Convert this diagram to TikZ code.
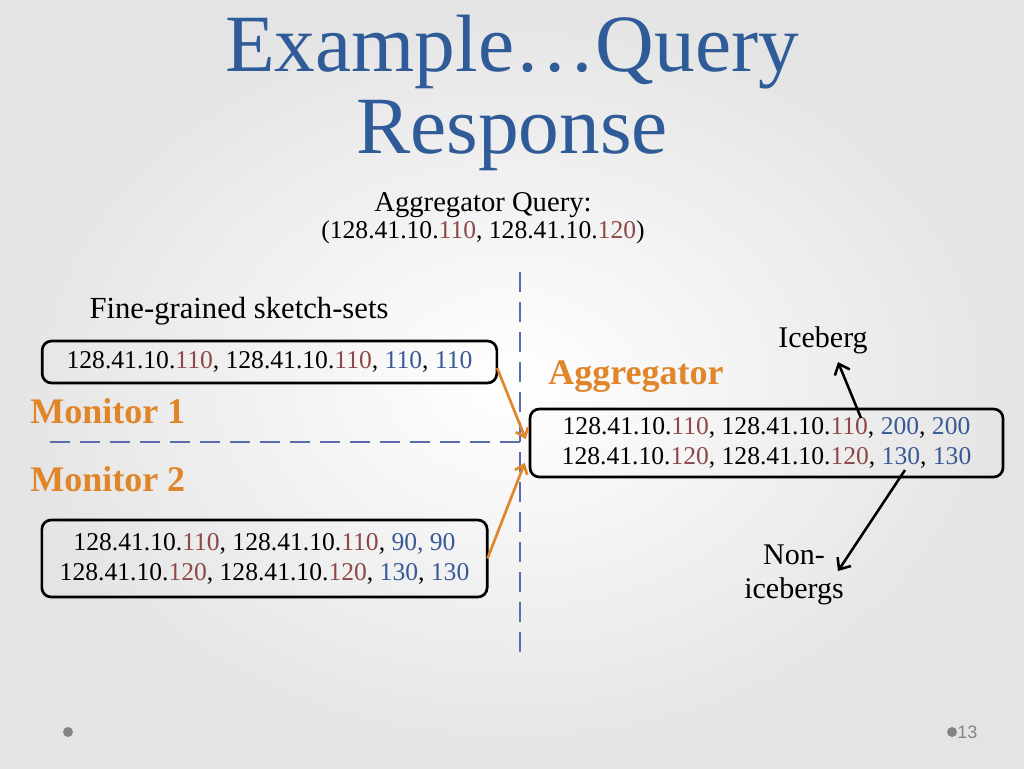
\documentclass[tikz,border=0pt]{standalone}
\usepackage{fontspec}
\setmainfont{Liberation Serif}
\newfontfamily\footfont{Liberation Sans}
\usetikzlibrary{arrows.meta,calc}
\definecolor{titleblue}{HTML}{2F5C98}
\definecolor{numred}{HTML}{8E4848}
\definecolor{numblue}{HTML}{3A5A96}
\definecolor{monorange}{HTML}{E0852A}
\definecolor{dashblue}{HTML}{5B6CAE}
\definecolor{bggray}{HTML}{E4E4E4}
\definecolor{footgray}{HTML}{858585}
\newcommand{\rd}[1]{\textcolor{numred}{#1}}
\newcommand{\bl}[1]{\textcolor{numblue}{#1}}
\tikzset{
  sketchbox/.style={draw=black,line width=2pt,rounded corners=7pt,align=center,
     font=\fontsize{19.2}{22.5}\selectfont,inner sep=0pt},
  plain/.style={align=center,inner sep=0pt},
  rolelabel/.style={text=monorange,font=\fontsize{27}{30}\selectfont\bfseries,inner sep=0pt},
  dashline/.style={draw=dashblue,line width=2pt,dash pattern=on 15pt off 7.5pt},
  feedarrow/.style={draw=monorange,line width=2pt,-{Straight Barb[length=6pt,width=10pt]}},
  classarrow/.style={draw=black,line width=1.9pt,-{Straight Barb[length=7pt,width=12pt]}},
  footdot/.style={fill=footgray,circle,inner sep=0pt,minimum size=7.5pt}
}
\begin{document}
\begin{tikzpicture}[x=0.75pt,y=-0.75pt]
\shade[inner color=white,outer color=bggray] (0,0) rectangle (1024,768);
\useasboundingbox (0,0) rectangle (1024,768);
% title
\node[plain,text=titleblue,font=\fontsize{61}{62}\selectfont] (title) at (512,93) {Example\ldots Query\\Response};
% query
\node[plain,font=\fontsize{21.5}{20}\selectfont] (query) at (483,218) {Aggregator Query:\\[0pt]\fontsize{19.2}{20}\selectfont(128.41.10.\rd{110}, 128.41.10.\rd{120})};
% dashed lines
\coordinate (vtop) at (520,272);
\coordinate (vbot) at (520,660);
\coordinate (hleft) at (50,442);
\coordinate (hright) at (520,442);
\draw[dashline] (vtop) -- (vbot);
\draw[dashline] (hleft) -- (hright);
% left side
\node[plain,font=\fontsize{23}{24}\selectfont] (fine) at (239,311) {Fine-grained sketch-sets};
\node[sketchbox,minimum width=341pt,minimum height=31.5pt] (box1) at (269.5,362)
  {128.41.10.\rd{110}, 128.41.10.\rd{110}, \bl{110}, \bl{110}};
\node[rolelabel,anchor=west] (mon1) at (30,411) {Monitor 1};
\node[rolelabel,anchor=west] (mon2) at (30,479) {Monitor 2};
\node[sketchbox,minimum width=334pt,minimum height=57.75pt] (box2) at (264.5,558.5)
  {128.41.10.\rd{110}, 128.41.10.\rd{110}, \bl{90, 90}\\128.41.10.\rd{120}, 128.41.10.\rd{120}, \bl{130}, \bl{130}};
% right side
\node[rolelabel,anchor=west] (agg) at (548,377) {Aggregator};
\node[sketchbox,minimum width=354.75pt,minimum height=51pt] (box3) at (766.5,443)
  {128.41.10.\rd{110}, 128.41.10.\rd{110}, \bl{200}, \bl{200}\\128.41.10.\rd{120}, 128.41.10.\rd{120}, \bl{130}, \bl{130}};
\node[plain,font=\fontsize{22.5}{24}\selectfont] (ice) at (823,340) {Iceberg};
\node[plain,font=\fontsize{22.5}{26}\selectfont] (nonice) at (794,575) {Non-\\icebergs};
% connectors
\coordinate (icefrom) at (861,418);
\coordinate (iceto) at (838,362);
\coordinate (nonfrom) at (905,470);
\coordinate (nonto) at (838,571);
\draw[classarrow] (icefrom) -- (iceto);
\draw[classarrow] (nonfrom) -- (nonto);
\draw[feedarrow] ($(box1.east)+(-1,6)$) -- ($(box3.west)+(-3,-4)$);
\draw[feedarrow] ($(box2.east)+(-1,0)$) -- ($(box3.west)+(-4,20)$);
% footer
\node[footdot] (d1) at (68,732) {};
\node[footdot] (d2) at (952,732) {};
\node[anchor=west,inner sep=0pt,text=footgray,font=\footfont\fontsize{13.5}{14}\selectfont] (pg) at (957,732) {13};
\end{tikzpicture}
\end{document}
